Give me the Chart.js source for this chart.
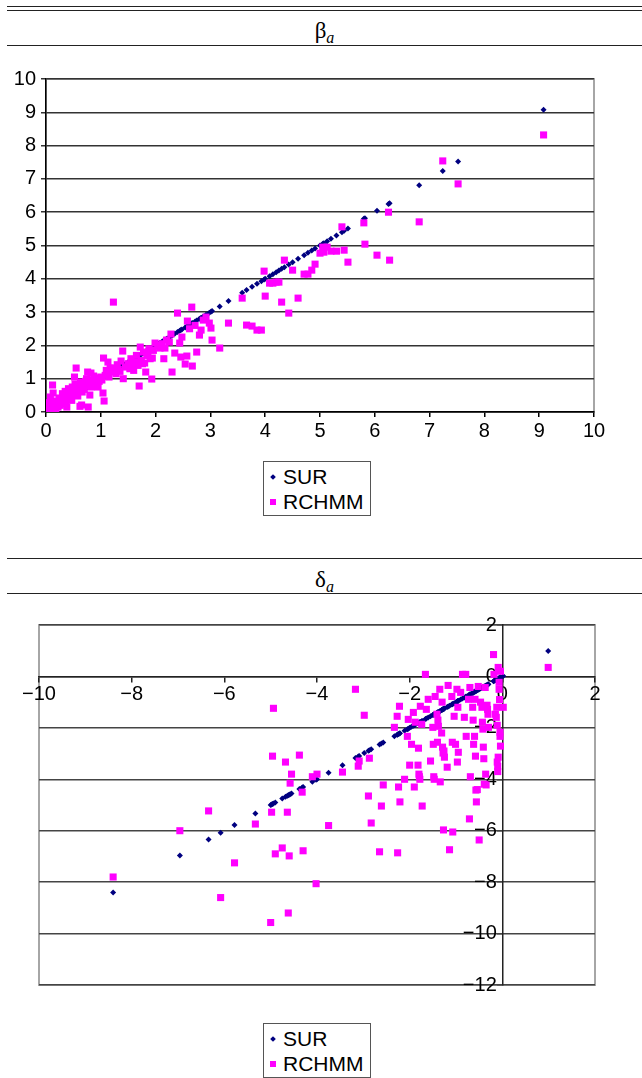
<!DOCTYPE html>
<html>
<head>
<meta charset="utf-8">
<script src="https://cdn.jsdelivr.net/npm/chart.js@4.4.1/dist/chart.umd.min.js"></script>
<style>
    body { margin: 0; background: #fff; }
    #page { position: relative; width: 642px; height: 1078px; overflow: hidden; }
    .rule { position: absolute; left: 7px; right: 0; height: 0; border-top: 1.5px solid #222; }
    .head { position: absolute; left: 7px; right: 0; height: 26px; line-height: 26px; text-align: center;
            font-family: "Liberation Serif", "Times New Roman", serif; font-size: 23px; color: #000; }
    .head i { font-size: 16px; position: relative; top: 5px; }
    .plot { position: absolute; left: 0; }
    .legend { position: absolute; left: 263px; width: 106px; height: 51px; padding-top: 2px;
              border: 1.5px solid #555; font-family: "Liberation Sans", Arial, sans-serif; font-size: 21px; color: #000; }
    .item { position: relative; height: 25px; line-height: 25px; padding-left: 19px; }
    .mark { position: absolute; }
    .mark.rectRot { left: 7px; top: 11px; width: 4px; height: 4px; transform: rotate(45deg); }
    .mark.rect { left: 6px; top: 10px; width: 6px; height: 6px; }
</style>
</head>
<body>
<div id="page">
    <div class="rule" style="top:6px"></div>
    <div class="rule" style="top:10px"></div>
    <div class="head" style="top:18px">β<i>a</i></div>
    <div class="rule" style="top:45px"></div>
    <div class="plot" style="top:50px"><canvas id="betaChart" width="642" height="390"></canvas></div>
    <div class="legend" id="betaLegend" style="top:461px"></div>

    <div class="rule" style="top:558px"></div>
    <div class="head" style="top:567px">δ<i>a</i></div>
    <div class="rule" style="top:593px"></div>
    <div class="plot" style="top:600px"><canvas id="deltaChart" width="642" height="400"></canvas></div>
    <div class="legend" id="deltaLegend" style="top:1023px"></div>
</div>
<script>
// beta_a: SUR estimate (x, and SUR's own y) with the matching RCHMM estimate
const betaSur = [
    0.00, 0.01, 0.02, 0.04, 0.05, 0.07, 0.08, 0.10, 0.12, 0.13,
    0.14, 0.16, 0.18, 0.20, 0.22, 0.24, 0.26, 0.28, 0.30, 0.31,
    0.33, 0.35, 0.36, 0.38, 0.40, 0.41, 0.43, 0.45, 0.47, 0.48,
    0.50, 0.52, 0.53, 0.55, 0.56, 0.58, 0.60, 0.62, 0.63, 0.65,
    0.66, 0.68, 0.70, 0.72, 0.74, 0.76, 0.77, 0.78, 0.80, 0.82,
    0.83, 0.85, 0.87, 0.90, 0.93, 0.95, 0.97, 1.00, 1.02, 1.04,
    1.05, 1.06, 1.08, 1.10, 1.13, 1.15, 1.17, 1.20, 1.23, 1.25,
    1.28, 1.30, 1.32, 1.35, 1.37, 1.40, 1.41, 1.45, 1.50, 1.53,
    1.55, 1.58, 1.60, 1.62, 1.65, 1.68, 1.70, 1.72, 1.74, 1.76,
    1.78, 1.80, 1.82, 1.84, 1.86, 1.88, 1.90, 1.93, 1.94, 1.96,
    1.99, 2.04, 2.08, 2.12, 2.15, 2.17, 2.20, 2.25, 2.28, 2.30,
    2.35, 2.40, 2.44, 2.46, 2.48, 2.54, 2.57, 2.58, 2.62, 2.66,
    2.67, 2.72, 2.75, 2.80, 2.83, 2.87, 2.92, 2.98, 3.01, 3.03,
    3.17, 3.33, 3.58, 3.66, 3.76, 3.85, 3.93, 3.98, 4.00, 4.08,
    4.14, 4.20, 4.25, 4.30, 4.35, 4.43, 4.50, 4.60, 4.71, 4.78,
    4.85, 4.91, 5.00, 5.05, 5.07, 5.13, 5.20, 5.30, 5.40, 5.44,
    5.51, 5.80, 5.82, 6.04, 6.25, 6.27, 6.81, 7.24, 7.52, 9.08
];
const betaRchmm = [
    0.05, 0.00, 0.12, 0.28, 0.02, 0.18, 0.45, 0.10, 0.81, 0.57,
    0.33, 0.22, 0.08, 0.30, 0.15, 0.42, 0.20, 0.35, 0.55, 0.25,
    0.45, 0.62, 0.30, 0.15, 0.52, 0.70, 0.40, 0.60, 0.35, 0.75,
    0.55, 1.05, 0.84, 1.32, 0.65, 0.48, 0.72, 0.17, 0.90, 0.21,
    0.60, 0.80, 0.68, 0.92, 1.00, 1.20, 0.15, 0.78, 0.51, 1.17,
    0.75, 0.95, 1.08, 0.85, 1.02, 0.75, 0.92, 1.05, 0.96, 0.57,
    1.62, 0.33, 1.10, 1.25, 1.50, 1.05, 1.32, 1.20, 3.30, 1.32,
    1.15, 1.42, 1.28, 1.22, 1.53, 1.83, 1.00, 1.35, 1.45, 1.30,
    1.60, 1.45, 1.25, 1.50, 1.70, 1.40, 0.78, 1.95, 1.55, 1.45,
    1.80, 1.47, 1.20, 1.70, 1.71, 1.90, 1.60, 0.99, 1.62, 1.85,
    2.07, 2.00, 1.92, 2.05, 1.60, 1.92, 2.16, 2.10, 2.34, 1.20,
    1.77, 2.97, 2.07, 1.65, 2.25, 1.44, 1.68, 2.73, 2.50, 3.15,
    1.38, 2.60, 1.80, 2.31, 2.46, 2.76, 2.85, 2.67, 2.52, 2.16,
    1.92, 2.67, 3.42, 2.61, 2.58, 2.46, 2.46, 4.23, 3.48, 3.87,
    3.87, 3.90, 3.90, 3.30, 4.56, 2.97, 4.26, 3.42, 4.14, 4.14,
    4.26, 4.44, 4.77, 4.95, 4.80, 4.95, 4.83, 4.83, 5.56, 4.86,
    4.50, 5.68, 5.04, 4.71, 6.00, 4.56, 5.71, 7.54, 6.85, 8.32
];

// delta_a
const deltaSur = [
    -8.40, -6.96, -6.34, -6.08, -5.78, -5.33, -5.00, -4.98, -4.96, -4.94,
    -4.90, -4.75, -4.68, -4.64, -4.62, -4.60, -4.58, -4.55, -4.38, -4.32,
    -4.30, -4.10, -4.02, -4.00, -3.75, -3.45, -3.17, -3.11, -3.09, -2.98,
    -2.89, -2.87, -2.83, -2.65, -2.61, -2.57, -2.33, -2.27, -2.26, -2.24,
    -2.22, -2.21, -2.11, -2.05, -2.03, -2.00, -1.96, -1.92, -1.90, -1.88,
    -1.82, -1.81, -1.80, -1.79, -1.78, -1.77, -1.74, -1.73, -1.66, -1.64,
    -1.60, -1.55, -1.50, -1.49, -1.48, -1.47, -1.45, -1.41, -1.40, -1.39,
    -1.38, -1.35, -1.34, -1.31, -1.30, -1.29, -1.28, -1.27, -1.26, -1.25,
    -1.19, -1.17, -1.14, -1.09, -1.08, -1.07, -1.04, -1.01, -0.98, -0.97,
    -0.96, -0.95, -0.90, -0.86, -0.82, -0.79, -0.78, -0.73, -0.71, -0.70,
    -0.69, -0.64, -0.63, -0.62, -0.60, -0.59, -0.58, -0.57, -0.56, -0.54,
    -0.52, -0.50, -0.47, -0.44, -0.43, -0.42, -0.41, -0.40, -0.39, -0.37,
    -0.36, -0.35, -0.33, -0.32, -0.31, -0.30, -0.19, -0.18, -0.15, -0.13,
    -0.12, -0.11, -0.11, -0.10, -0.10, -0.09, -0.09, -0.07, -0.07, -0.06,
    -0.05, -0.05, -0.04, -0.04, 0.02, 0.99
];
const deltaRchmm = [
    -7.80, -6.00, -5.23, -8.60, -7.25, -5.74, -9.57, -5.28, -3.10, -1.24,
    -6.90, -6.67, -3.33, -5.28, -9.20, -6.98, -4.15, -3.80, -3.06, -4.50,
    -6.78, -3.90, -8.06, -3.80, -5.80, -3.72, -0.50, -3.49, -3.29, -1.51,
    -4.65, -3.18, -5.70, -6.82, -5.04, -4.22, -1.98, -1.55, -6.86, -4.30,
    -1.16, -4.88, -4.00, -2.33, -1.67, -3.45, -2.64, -1.40, -4.30, -1.78,
    -3.45, -2.79, -3.80, -3.90, -4.00, -1.16, -1.86, -5.04, 0.08, -1.28,
    -0.89, -3.29, -1.98, -2.64, -3.90, -4.00, -0.78, -1.47, -2.56, -1.70,
    -1.94, -0.50, -4.10, -2.20, -1.00, -2.75, -2.98, -5.97, -2.90, -3.14,
    -3.53, -0.35, -6.74, -0.78, -2.56, -6.05, -1.55, -2.64, -0.50, -3.33,
    -1.20, -2.95, -0.62, 0.08, -1.59, 0.08, -2.33, -0.89, -5.54, -0.43,
    -3.90, -1.20, -1.70, -2.64, -2.33, -0.89, -3.10, -4.42, -4.88, -4.40,
    -0.39, -6.36, -1.00, -1.20, -1.78, -2.05, -2.75, -3.20, -4.19, -0.43,
    -3.80, -4.22, -1.12, -1.28, -1.47, -1.98, 0.85, 0.08, -1.47, -1.59,
    -1.20, -1.90, -3.33, -3.50, -3.70, 0.35, -3.14, -0.23, -0.50, -0.90,
    -2.17, -2.33, -2.71, 0.20, -1.20, 0.35
];

const seriesNames = ['SUR', 'RCHMM'];
const betaTicks = { min: 0, max: 10, step: 1 };
const deltaXTicks = { min: -10, max: 2, step: 2 };
const deltaYTicks = { min: -12, max: 2, step: 2 };

Chart.defaults.font.family = '"Liberation Sans", Arial, sans-serif';
Chart.defaults.font.size = 20;
Chart.defaults.color = '#000';

const minus = v => String(v).replace('-', '\u2212');
// labels of an axis placed at x = 0 sit flush on the line, so pad them with a space
const minusPadded = v => minus(v) + ' ';

// grey frame round the plot area, drawn under the axes
const framePlugin = {
    id: 'frame',
    beforeDraw(chart) {
        const { ctx, chartArea: a } = chart;
        ctx.save();
        ctx.strokeStyle = '#a6a6a6';
        ctx.lineWidth = 2;
        ctx.strokeRect(a.left, a.top, a.right - a.left, a.bottom - a.top);
        ctx.restore();
    }
};

const makeDatasets = (sur, rchmm) => [
    {
        label: seriesNames[0],
        data: sur.map(v => ({ x: v, y: v })),
        pointStyle: 'rectRot',
        pointRadius: 3,
        backgroundColor: '#000080',
        borderWidth: 0,
        order: 1,
    },
    {
        label: seriesNames[1],
        data: sur.map((v, i) => ({ x: v, y: rchmm[i] })),
        pointStyle: 'rect',
        pointRadius: 5,
        backgroundColor: '#ff00ff',
        borderWidth: 0,
        order: 0,
    },
];

const buildLegend = (chart, el) => {
    chart.data.datasets.forEach(ds => {
        const row = document.createElement('div');
        row.className = 'item';
        const mark = document.createElement('span');
        mark.className = 'mark ' + ds.pointStyle;
        mark.style.background = ds.backgroundColor;
        row.appendChild(mark);
        row.appendChild(document.createTextNode(ds.label));
        el.appendChild(row);
    });
};

const betaChart = new Chart(document.getElementById('betaChart'), {
    type: 'scatter',
    data: { datasets: makeDatasets(betaSur, betaRchmm) },
    options: {
        responsive: false,
        animation: false,
        layout: { padding: { left: 0, right: 48, top: 29, bottom: 0 } },
        plugins: { legend: { display: false }, tooltip: { enabled: false } },
        scales: {
            x: {
                type: 'linear',
                min: betaTicks.min,
                max: betaTicks.max,
                ticks: { stepSize: betaTicks.step, autoSkip: false, padding: 2 },
                grid: { drawOnChartArea: false, tickLength: 5, color: '#000', lineWidth: 1.5 },
                border: { color: '#000', width: 1.5 },
                afterFit: s => { s.height = 28; },
            },
            y: {
                type: 'linear',
                min: betaTicks.min,
                max: betaTicks.max,
                ticks: { stepSize: betaTicks.step, autoSkip: false, padding: 5 },
                grid: { color: '#333', lineWidth: 1.5, tickLength: 5 },
                border: { color: '#000', width: 1.5 },
                afterFit: s => { s.width = 46; },
            },
        },
    },
    plugins: [framePlugin],
});
buildLegend(betaChart, document.getElementById('betaLegend'));

const deltaChart = new Chart(document.getElementById('deltaChart'), {
    type: 'scatter',
    data: { datasets: makeDatasets(deltaSur, deltaRchmm) },
    options: {
        responsive: false,
        animation: false,
        layout: { padding: { left: 39, right: 47, top: 25, bottom: 14 } },
        plugins: { legend: { display: false }, tooltip: { enabled: false } },
        scales: {
            x: {
                type: 'linear',
                position: { y: 0 },
                min: deltaXTicks.min,
                max: deltaXTicks.max,
                ticks: { stepSize: deltaXTicks.step, autoSkip: false, padding: 1, callback: minus },
                grid: { drawOnChartArea: false, tickLength: 5, color: '#222', lineWidth: 1.5 },
                border: { color: '#222', width: 1.5 },
            },
            y: {
                type: 'linear',
                position: { x: 0 },
                min: deltaYTicks.min,
                max: deltaYTicks.max,
                ticks: { stepSize: deltaYTicks.step, autoSkip: false, callback: minusPadded },
                grid: { color: '#444', lineWidth: 1.5, tickLength: 5 },
                border: { color: '#222', width: 1.5 },
            },
        },
    },
    plugins: [framePlugin],
});
buildLegend(deltaChart, document.getElementById('deltaLegend'));
</script>
</body>
</html>
